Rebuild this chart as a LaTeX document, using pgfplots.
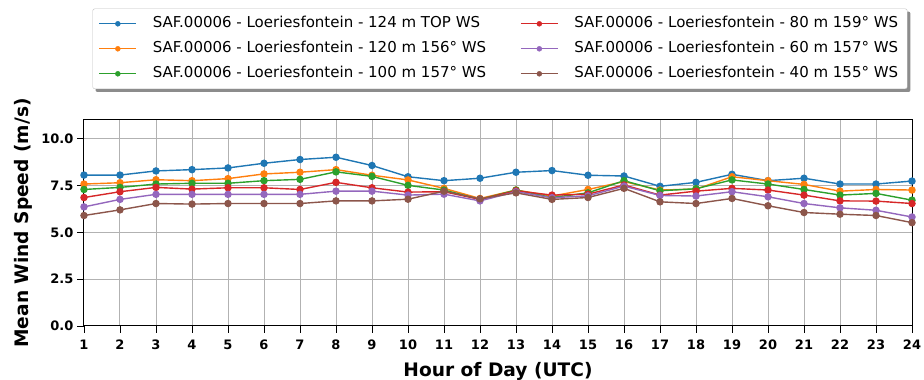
\documentclass[border=0pt]{standalone}
\usepackage{fontspec}
\setmainfont{DejaVu Sans}
\usepackage{pgfplots}
\usepackage{pgfplotstable}
\pgfplotsset{compat=1.18}
\usetikzlibrary{backgrounds}
\definecolor{tblue}{HTML}{1F77B4}
\definecolor{torange}{HTML}{FF7F0E}
\definecolor{tgreen}{HTML}{2CA02C}
\definecolor{tred}{HTML}{D62728}
\definecolor{tpurple}{HTML}{9467BD}
\definecolor{tbrown}{HTML}{8C564B}
\pgfplotstableread{
h  b    o    g    r    p    br
1  8.06 7.58 7.29 6.86 6.36 5.90
2  8.06 7.65 7.40 7.17 6.76 6.20
3  8.28 7.81 7.58 7.40 7.03 6.54
4  8.35 7.76 7.62 7.31 7.03 6.51
5  8.44 7.87 7.62 7.38 7.03 6.54
6  8.69 8.12 7.76 7.38 7.03 6.54
7  8.89 8.21 7.83 7.29 7.03 6.54
8  9.01 8.35 8.23 7.67 7.20 6.68
9  8.57 8.05 7.99 7.38 7.20 6.68
10 7.97 7.80 7.51 7.15 6.99 6.77
11 7.76 7.35 7.26 7.17 7.04 7.20
12 7.89 6.81 6.76 6.76 6.68 6.79
13 8.21 7.26 7.26 7.22 7.17 7.11
14 8.30 6.94 6.86 6.99 6.85 6.76
15 8.05 7.29 7.11 7.04 6.95 6.86
16 8.01 7.71 7.76 7.53 7.47 7.35
17 7.46 7.26 7.22 6.99 6.97 6.63
18 7.67 7.31 7.33 7.20 6.94 6.54
19 8.10 7.97 7.80 7.35 7.17 6.81
20 7.76 7.76 7.58 7.26 6.90 6.42
21 7.89 7.56 7.29 6.99 6.54 6.06
22 7.58 7.20 6.99 6.68 6.31 5.97
23 7.58 7.29 7.08 6.67 6.18 5.90
24 7.74 7.26 6.72 6.54 5.82 5.52
}\datatable
\begin{document}
\begin{tikzpicture}
\path[use as bounding box] (0pt,0pt) rectangle (924pt,380pt);
\begin{axis}[
  at={(84pt,54pt)}, anchor=south west,
  scale only axis, width=828pt, height=206pt,
  xmin=1, xmax=24, ymin=0, ymax=11,
  xtick={1,...,24}, ytick={0,2.5,5,7.5,10},
  tick pos=left, tick align=outside, major tick length=7pt,
  tick style={black, line width=0.8pt},
  axis line style={black, line width=1pt},
  grid=major, grid style={color=black!30, line width=1pt},
  /pgf/number format/assume math mode=true,
  ticklabel style={font=\bfseries\fontsize{13}{15}\selectfont},
  xticklabel style={yshift=-3pt},
  yticklabel style={/pgf/number format/.cd, fixed, fixed zerofill, precision=1},
  xlabel={Hour of Day (UTC)}, ylabel={Mean Wind Speed (m/s)},
  label style={font=\bfseries\fontsize{18.6}{20}\selectfont},
  xlabel style={yshift=-6pt},
  ylabel style={yshift=2pt},
  ser/.style={line width=1.4pt, mark=*, mark size=3pt, mark options={solid}},
  legend columns=2,
  legend cell align=left,
  legend image code/.code={\draw[line width=1.2pt, mark=none] (0pt,0pt) -- (37pt,0pt); \draw[mark size=2.5pt] plot coordinates {(18.5pt,0pt)};},
  legend style={name=leg, at={(0.5024,1.1505)}, anchor=south,
    draw=black!25, rounded corners=2pt, fill=white,
    font=\fontsize{15}{17}\selectfont,
    inner xsep=6pt, inner ysep=6pt, row sep=7pt,
    nodes={inner xsep=3pt, inner ysep=2pt, text height=11pt, text depth=3pt},
    /tikz/every odd column/.append style={column sep=13pt},
    /tikz/every even column/.append style={column sep=31pt}},
]
\addplot[ser, color=tblue, forget plot] table[x=h, y=b] {\datatable};
\addplot[ser, color=torange, forget plot] table[x=h, y=o] {\datatable};
\addplot[ser, color=tgreen, forget plot] table[x=h, y=g] {\datatable};
\addplot[ser, color=tred, forget plot] table[x=h, y=r] {\datatable};
\addplot[ser, color=tpurple, forget plot] table[x=h, y=p] {\datatable};
\addplot[ser, color=tbrown, forget plot] table[x=h, y=br] {\datatable};
\addlegendimage{color=tblue, mark=*}
\addlegendentry{SAF.00006 - Loeriesfontein - 124 m TOP WS}
\addlegendimage{color=tred, mark=*}
\addlegendentry{SAF.00006 - Loeriesfontein - 80 m 159° WS}
\addlegendimage{color=torange, mark=*}
\addlegendentry{SAF.00006 - Loeriesfontein - 120 m 156° WS}
\addlegendimage{color=tpurple, mark=*}
\addlegendentry{SAF.00006 - Loeriesfontein - 60 m 157° WS}
\addlegendimage{color=tgreen, mark=*}
\addlegendentry{SAF.00006 - Loeriesfontein - 100 m 157° WS}
\addlegendimage{color=tbrown, mark=*}
\addlegendentry{SAF.00006 - Loeriesfontein - 40 m 155° WS}
\end{axis}
\begin{pgfonlayer}{background}
\fill[black!45, rounded corners=2pt] ([xshift=3pt,yshift=-3pt]leg.south west) rectangle ([xshift=3pt,yshift=-3pt]leg.north east);
\end{pgfonlayer}
\end{tikzpicture}
\end{document}
